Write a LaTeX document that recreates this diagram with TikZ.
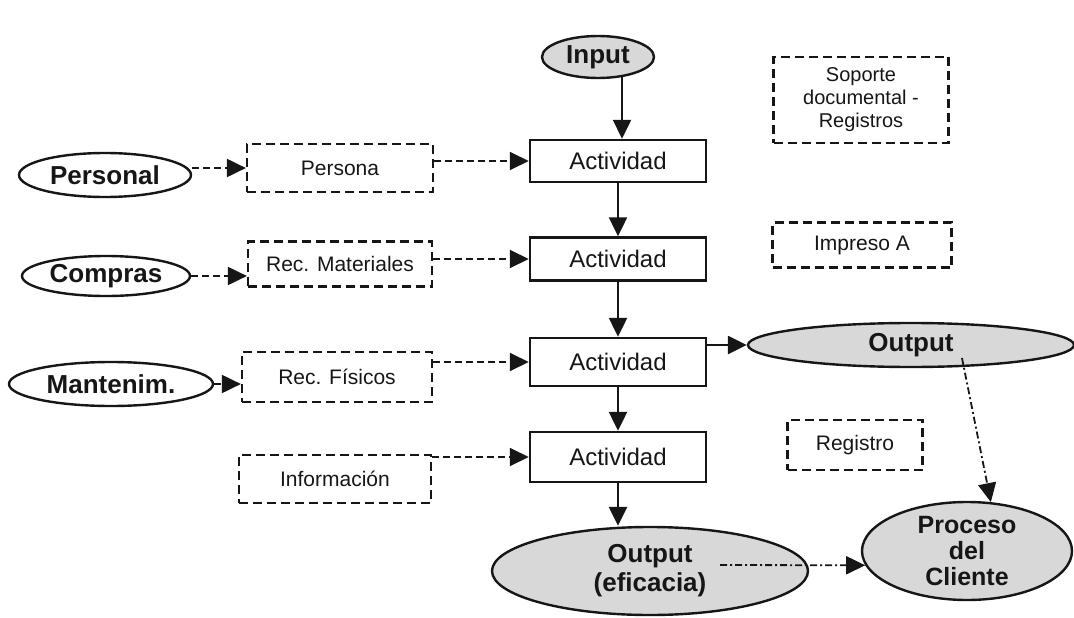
\documentclass[tikz,border=0pt]{standalone}
\usepackage{fontspec}
\setmainfont{Liberation Sans}
\usetikzlibrary{arrows.meta,shapes.geometric}
\definecolor{shade}{HTML}{D8D8D8}
\definecolor{ink}{HTML}{161616}

\begin{document}
\begin{tikzpicture}[x=1pt,y=-1pt,
  every node/.style={inner sep=0pt, text=ink},
  act/.style={draw=ink, line width=2.5pt, fill=white, minimum width=176pt,
    font=\fontsize{24}{28}\selectfont},
  res/.style={draw=ink, line width=2.2pt, dash pattern=on 9pt off 5pt,
    font=\fontsize{21}{23}\selectfont, align=center},
  oval/.style={ellipse, draw=ink, line width=2.4pt,
    font=\bfseries\fontsize{26}{29}\selectfont, align=center},
  grey/.style={oval, fill=shade},
  tip/.style={-{Triangle[length=19pt,width=18pt]}},
  flow/.style={draw=ink, line width=2.5pt, tip},
  feed/.style={draw=ink, line width=2pt, dash pattern=on 7pt off 4pt, tip},
  link/.style={draw=ink, line width=1.8pt,
    dash pattern=on 7pt off 3pt on 2pt off 3pt, tip}
]
\useasboundingbox (0,0) rectangle (1074,618);

% main chain
\node[grey, minimum width=112pt, minimum height=42pt] (input) at (598,57) {Input};
\node[act, minimum height=42pt] (act1) at (618,161) {Actividad};
\node[act, minimum height=43pt] (act2) at (618,259) {Actividad};
\node[act, minimum height=48pt] (act3) at (618,362) {Actividad};
\node[act, minimum height=50pt] (act4) at (618,457) {Actividad};
\node[grey, minimum width=326pt, minimum height=44pt] (out1) at (911,345) {Output};
\node[grey, minimum width=316pt, minimum height=88pt] (out2) at (650,571) {Output\\(eficacia)};
\node[grey, minimum width=210pt, minimum height=98pt,
  label={[font=\bfseries\fontsize{25}{26}\selectfont, align=center, text=ink]center:Proceso\\del\\Cliente}]
  (proc) at (967,551) {};

% suppliers
\node[oval, minimum width=172pt, minimum height=44pt] (personal) at (105,175) {Personal};
\node[oval, minimum width=168pt, minimum height=40pt] (compras) at (106,276) {Compras};
\node[oval, minimum width=204pt, minimum height=44pt] (manten) at (111,384) {Mantenim.};

% resources
\node[res, minimum width=186pt, minimum height=48pt] (persona) at (340,168) {Persona};
\node[res, minimum width=184pt, minimum height=45pt] (recmat) at (340,264) {Rec. Materiales};
\node[res, minimum width=190pt, minimum height=50pt] (recfis) at (337,377) {Rec. Físicos};
\node[res, minimum width=192pt, minimum height=48pt] (info) at (335,479) {Información};

% records
\node[res, minimum width=175pt, minimum height=86pt, font=\fontsize{20}{23}\selectfont]
  (soporte) at (861,100) {Soporte\\documental -\\Registros};
\node[res, minimum width=179pt, minimum height=45pt] (impreso) at (862,245) {Impreso A};
\node[res, minimum width=135pt, minimum height=50pt] (registro) at (855,445) {Registro};

% vertical flow
\draw[flow] (input.-40) -- (input.-40 |- act1.north);
\draw[flow] (act1) -- (act2);
\draw[flow] (act2) -- (act3);
\draw[flow] (act3) -- (act4);
\draw[flow] (act4.south) -- (act4.south |- out2.north);
\draw[flow] (out1.west -| act3.east) -- (out1.west);

% supplier -> resource -> activity
\draw[feed] (persona.west -| personal.east) -- (persona.west);
\draw[feed] (compras.east) -- (compras.east -| recmat.west);
\draw[feed] (manten.east) -- (manten.east -| recfis.west);
\draw[feed] (act1.west -| persona.east) -- (act1.west);
\draw[feed] (act2.west -| recmat.east) -- (act2.west);
\draw[feed] (act3.west -| recfis.east) -- (act3.west);
\draw[feed] (act4.west -| info.east) -- (act4.west);

% outputs to the customer's process
\coordinate (tap1) at (962,358);
\coordinate (tap2) at (720,565);
\draw[link] (tap1) -- (proc.64);
\draw[link] (tap2) -- (proc.188);
\end{tikzpicture}
\end{document}
